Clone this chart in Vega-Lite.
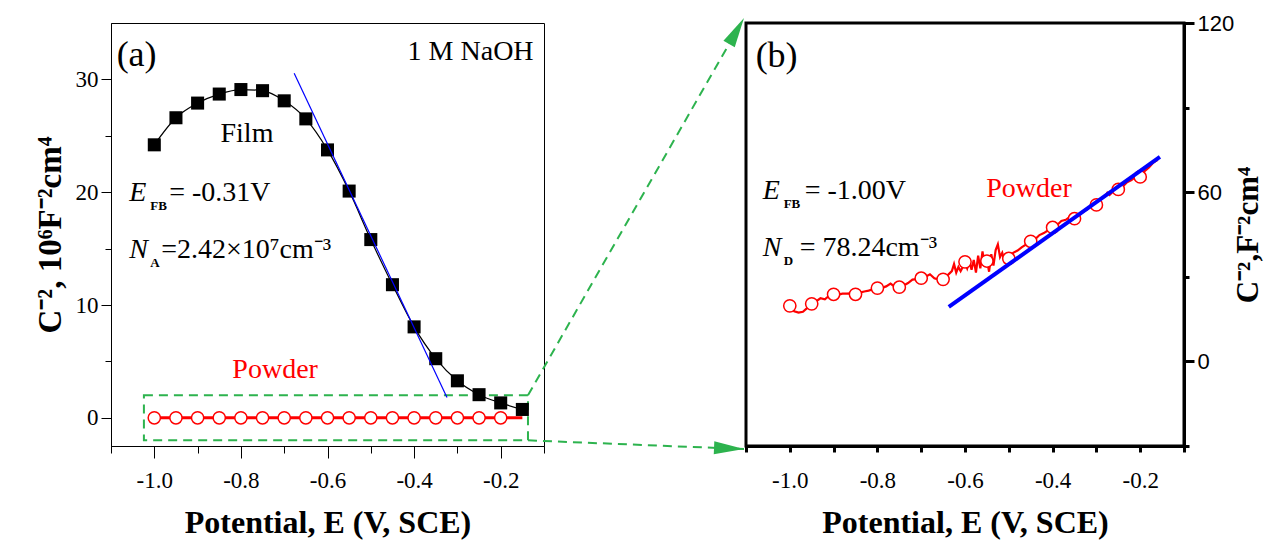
{
  "$schema": "https://vega.github.io/schema/vega-lite/v6.json",
  "background": "white",
  "padding": {"left": 33, "top": 10, "right": 0, "bottom": 5},
  "bounds": "flush",
  "spacing": 202,
  "config": {
    "font": "Liberation Serif",
    "view": {"stroke": null},
    "axis": {"grid": false, "domainColor": "black", "tickColor": "black", "labelColor": "black", "titleColor": "black", "labelFlush": false, "labelOverlap": false, "labelBound": false}
  },
  "datasets": {
    "film": [
      {"x": -1.00, "y": 24.2}, {"x": -0.95, "y": 26.6}, {"x": -0.90, "y": 27.9}, {"x": -0.85, "y": 28.7},
      {"x": -0.80, "y": 29.1}, {"x": -0.75, "y": 29.0}, {"x": -0.70, "y": 28.1}, {"x": -0.65, "y": 26.5},
      {"x": -0.60, "y": 23.75}, {"x": -0.55, "y": 20.1}, {"x": -0.50, "y": 15.8}, {"x": -0.45, "y": 11.8},
      {"x": -0.40, "y": 8.06}, {"x": -0.35, "y": 5.24}, {"x": -0.30, "y": 3.28}, {"x": -0.25, "y": 2.05},
      {"x": -0.20, "y": 1.32}, {"x": -0.15, "y": 0.74}
    ],
    "powderA": [
      {"x": -1.00, "y": 0}, {"x": -0.95, "y": 0}, {"x": -0.90, "y": 0}, {"x": -0.85, "y": 0},
      {"x": -0.80, "y": 0}, {"x": -0.75, "y": 0}, {"x": -0.70, "y": 0}, {"x": -0.65, "y": 0},
      {"x": -0.60, "y": 0}, {"x": -0.55, "y": 0}, {"x": -0.50, "y": 0}, {"x": -0.45, "y": 0},
      {"x": -0.40, "y": 0}, {"x": -0.35, "y": 0}, {"x": -0.30, "y": 0}, {"x": -0.25, "y": 0},
      {"x": -0.20, "y": 0}, {"x": -0.15, "y": 0}
    ],
    "powderBline": [
      {"x": -1.000, "y": 19.7}, {"x": -0.990, "y": 17.8}, {"x": -0.980, "y": 17.3}, {"x": -0.970, "y": 17.6},
      {"x": -0.960, "y": 19.0}, {"x": -0.950, "y": 20.4}, {"x": -0.940, "y": 21.3}, {"x": -0.930, "y": 22.4},
      {"x": -0.920, "y": 22.0}, {"x": -0.910, "y": 23.3}, {"x": -0.900, "y": 23.8}, {"x": -0.890, "y": 23.6},
      {"x": -0.880, "y": 24.0}, {"x": -0.870, "y": 24.0}, {"x": -0.860, "y": 24.1}, {"x": -0.850, "y": 23.8},
      {"x": -0.840, "y": 24.4}, {"x": -0.830, "y": 24.8}, {"x": -0.820, "y": 25.1}, {"x": -0.810, "y": 25.6},
      {"x": -0.800, "y": 26.0}, {"x": -0.790, "y": 26.1}, {"x": -0.780, "y": 26.6}, {"x": -0.770, "y": 27.6},
      {"x": -0.760, "y": 26.4}, {"x": -0.750, "y": 26.3}, {"x": -0.740, "y": 26.9}, {"x": -0.730, "y": 27.8},
      {"x": -0.720, "y": 29.0}, {"x": -0.710, "y": 29.2}, {"x": -0.700, "y": 29.5}, {"x": -0.690, "y": 30.0},
      {"x": -0.680, "y": 30.9}, {"x": -0.670, "y": 29.5}, {"x": -0.660, "y": 29.0}, {"x": -0.650, "y": 29.1},
      {"x": -0.640, "y": 30.5}, {"x": -0.630, "y": 32.0}, {"x": -0.625, "y": 34.5}, {"x": -0.620, "y": 31.5},
      {"x": -0.615, "y": 33.5}, {"x": -0.610, "y": 32.0}, {"x": -0.600, "y": 35.0}, {"x": -0.595, "y": 33.0},
      {"x": -0.590, "y": 35.5}, {"x": -0.585, "y": 32.5}, {"x": -0.580, "y": 36.0}, {"x": -0.575, "y": 31.5},
      {"x": -0.570, "y": 37.5}, {"x": -0.565, "y": 33.0}, {"x": -0.560, "y": 39.0}, {"x": -0.555, "y": 33.5},
      {"x": -0.550, "y": 36.0}, {"x": -0.545, "y": 31.8}, {"x": -0.540, "y": 38.0}, {"x": -0.535, "y": 34.0},
      {"x": -0.530, "y": 39.5}, {"x": -0.525, "y": 41.5}, {"x": -0.520, "y": 37.0}, {"x": -0.515, "y": 38.5},
      {"x": -0.510, "y": 35.5}, {"x": -0.505, "y": 37.0}, {"x": -0.500, "y": 36.5}, {"x": -0.490, "y": 38.5},
      {"x": -0.480, "y": 39.3}, {"x": -0.470, "y": 40.5}, {"x": -0.460, "y": 41.5}, {"x": -0.450, "y": 42.5},
      {"x": -0.440, "y": 43.3}, {"x": -0.430, "y": 44.8}, {"x": -0.420, "y": 45.5}, {"x": -0.410, "y": 46.5},
      {"x": -0.400, "y": 47.5}, {"x": -0.390, "y": 48.3}, {"x": -0.380, "y": 49.8}, {"x": -0.370, "y": 50.2},
      {"x": -0.360, "y": 51.3}, {"x": -0.350, "y": 51.0}, {"x": -0.340, "y": 51.8}, {"x": -0.330, "y": 53.0},
      {"x": -0.320, "y": 54.0}, {"x": -0.310, "y": 55.8}, {"x": -0.300, "y": 56.2}, {"x": -0.290, "y": 57.8},
      {"x": -0.280, "y": 58.5}, {"x": -0.275, "y": 59.8}, {"x": -0.270, "y": 59.0}, {"x": -0.260, "y": 60.5},
      {"x": -0.250, "y": 61.3}, {"x": -0.240, "y": 62.0}, {"x": -0.230, "y": 63.5}, {"x": -0.220, "y": 64.3},
      {"x": -0.210, "y": 65.5}, {"x": -0.200, "y": 66.0}, {"x": -0.190, "y": 67.5}, {"x": -0.180, "y": 68.8},
      {"x": -0.170, "y": 70.5}, {"x": -0.160, "y": 71.5}
    ],
    "powderBpts": [
      {"x": -1.00, "y": 19.7}, {"x": -0.95, "y": 20.4}, {"x": -0.90, "y": 23.8}, {"x": -0.85, "y": 23.8},
      {"x": -0.80, "y": 26.0}, {"x": -0.75, "y": 26.3}, {"x": -0.70, "y": 29.5}, {"x": -0.65, "y": 29.1},
      {"x": -0.60, "y": 35.3}, {"x": -0.55, "y": 35.6}, {"x": -0.50, "y": 36.5}, {"x": -0.45, "y": 42.6},
      {"x": -0.40, "y": 47.5}, {"x": -0.35, "y": 50.6}, {"x": -0.30, "y": 55.5}, {"x": -0.25, "y": 61.0},
      {"x": -0.20, "y": 65.4}
    ]
  },
  "hconcat": [
    {
      "width": 433,
      "height": 423,
      "view": {"stroke": "black", "strokeWidth": 1},
      "encoding": {
        "x": {
          "field": "x", "type": "quantitative",
          "scale": {"domain": [-1.1, -0.1], "nice": false, "zero": false},
          "axis": {
            "values": [-1.1, -1.0, -0.9, -0.8, -0.7, -0.6, -0.5, -0.4, -0.3, -0.2, -0.1],
            "format": ".1f",
            "labelExpr": "round(datum.value*10) % 2 === 0 ? replace(datum.label, '\u2212', '-') : ''",
            "tickSize": {"condition": {"test": "round(datum.value*10) % 2 === 0", "value": 12}, "value": 7},
            "labelFontSize": 23, "labelPadding": 11,
            "title": "Potential, E (V, SCE)", "titleFontSize": 32, "titleFontWeight": "bold", "titlePadding": 15
          }
        },
        "y": {
          "field": "y", "type": "quantitative",
          "scale": {"domain": [-2.5, 35], "nice": false, "zero": false},
          "axis": {
            "values": [0, 5, 10, 15, 20, 25, 30],
            "labelExpr": "datum.value % 10 === 0 ? datum.label : ''",
            "tickSize": {"condition": {"test": "datum.value % 10 === 0", "value": 10}, "value": 6},
            "labelFontSize": 23, "labelPadding": 3,
            "title": "C\u207b\u00b2, 10\u2076F\u207b\u00b2cm\u2074", "titleFontSize": 33, "titleFontWeight": "bold", "titlePadding": 8
          }
        }
      },
      "layer": [
        {
          "data": {"values": [{"x": -1.024, "x2": -0.137, "y": -2.0, "y2": 2.0}]},
          "mark": {"type": "rect", "fillOpacity": 0, "stroke": "#2db34e", "strokeWidth": 2, "strokeDash": [9, 6]},
          "encoding": {"x2": {"field": "x2"}, "y2": {"field": "y2"}}
        },
        {
          "data": {"name": "powderA"},
          "mark": {"type": "line", "color": "#ff0000", "strokeWidth": 3}
        },
        {
          "data": {"name": "powderA"},
          "transform": [{"filter": "datum.x <= -0.19"}],
          "mark": {"type": "point", "shape": "circle", "filled": true, "fill": "white", "stroke": "#ff0000", "strokeWidth": 1.5, "size": 150, "opacity": 1}
        },
        {
          "data": {"name": "film"},
          "mark": {"type": "line", "color": "black", "strokeWidth": 1.2, "interpolate": "monotone"}
        },
        {
          "data": {"name": "film"},
          "mark": {"type": "point", "shape": "square", "filled": true, "color": "black", "size": 170, "opacity": 1}
        },
        {
          "data": {"values": [{"x": -0.677, "y": 30.55}, {"x": -0.324, "y": 1.8}]},
          "mark": {"type": "line", "color": "#0000ff", "strokeWidth": 1.2}
        },
        {
          "data": {"values": [{"x": -0.137, "y": 2.0, "x2": 0.3619, "y2": 35.44}, {"x": -0.137, "y": -2.0, "x2": 0.3619, "y2": -2.77}]},
          "mark": {"type": "rule", "color": "#2db34e", "strokeWidth": 2, "strokeDash": [9, 6]},
          "encoding": {"x2": {"field": "x2"}, "y2": {"field": "y2"}}
        },
        {
          "data": {"values": [{"x": 0.3619, "y": 35.44}]},
          "mark": {"type": "point", "shape": "M0,0L0.65,3L-0.65,3Z", "size": 400, "angle": 29.8, "filled": true, "color": "#2db34e", "opacity": 1}
        },
        {
          "data": {"values": [{"x": 0.3619, "y": -2.77}]},
          "mark": {"type": "point", "shape": "M0,0L0.65,3L-0.65,3Z", "size": 400, "angle": 92.4, "filled": true, "color": "#2db34e", "opacity": 1}
        },
        {
          "data": {"values": [{"x": -1.087, "y": 32.2, "t": "(a)"}]},
          "mark": {"type": "text", "align": "left", "baseline": "middle", "fontSize": 36, "color": "black"},
          "encoding": {"text": {"field": "t"}}
        },
        {
          "data": {"values": [{"x": -0.124, "y": 32.45, "t": "1 M NaOH"}]},
          "mark": {"type": "text", "align": "right", "baseline": "middle", "fontSize": 28, "color": "black"},
          "encoding": {"text": {"field": "t"}}
        },
        {
          "data": {"values": [{"x": -0.786, "y": 25.2, "t": "Film"}]},
          "mark": {"type": "text", "align": "center", "baseline": "middle", "fontSize": 28, "color": "black"},
          "encoding": {"text": {"field": "t"}}
        },
        {
          "data": {"values": [{"x": -0.721, "y": 4.26, "t": "Powder"}]},
          "mark": {"type": "text", "align": "center", "baseline": "middle", "fontSize": 28, "color": "#ff0000"},
          "encoding": {"text": {"field": "t"}}
        },
        {
          "data": {"values": [{"x": -1.058, "y": 19.2, "t": "E"}, {"x": -1.058, "y": 14.2, "t": "N"}]},
          "mark": {"type": "text", "align": "left", "baseline": "alphabetic", "fontSize": 28, "fontStyle": "italic", "color": "black"},
          "encoding": {"text": {"field": "t"}}
        },
        {
          "data": {"values": [{"x": -1.058, "y": 19.2, "t": "FB"}, {"x": -1.058, "y": 14.2, "t": "A"}]},
          "mark": {"type": "text", "align": "left", "baseline": "alphabetic", "fontSize": 13, "fontWeight": "bold", "dx": 21, "dy": 9, "color": "black"},
          "encoding": {"text": {"field": "t"}}
        },
        {
          "data": {"values": [{"x": -1.058, "y": 19.2, "t": "= -0.31V"}]},
          "mark": {"type": "text", "align": "left", "baseline": "alphabetic", "fontSize": 28, "dx": 40, "color": "black"},
          "encoding": {"text": {"field": "t"}}
        },
        {
          "data": {"values": [{"x": -1.058, "y": 14.2, "t": "=2.42\u00d710\u2077cm\u207b\u00b3"}]},
          "mark": {"type": "text", "align": "left", "baseline": "alphabetic", "fontSize": 28, "dx": 32, "color": "black"},
          "encoding": {"text": {"field": "t"}}
        }
      ]
    },
    {
      "width": 438,
      "height": 423,
      "view": {"stroke": "black", "strokeWidth": 3},
      "encoding": {
        "x": {
          "field": "x", "type": "quantitative",
          "scale": {"domain": [-1.1, -0.1], "nice": false, "zero": false},
          "axis": {
            "values": [-1.1, -1.0, -0.9, -0.8, -0.7, -0.6, -0.5, -0.4, -0.3, -0.2, -0.1],
            "format": ".1f",
            "labelExpr": "round(datum.value*10) % 2 === 0 ? replace(datum.label, '\u2212', '-') : ''",
            "tickSize": 6, "tickWidth": 3, "domainWidth": 3,
            "labelFontSize": 23, "labelPadding": 17,
            "title": "Potential, E (V, SCE)", "titleFontSize": 32, "titleFontWeight": "bold", "titlePadding": 15
          }
        },
        "y": {
          "field": "y", "type": "quantitative",
          "scale": {"domain": [-30, 120], "nice": false, "zero": false},
          "axis": {
            "orient": "right",
            "values": [-30, 0, 30, 60, 90, 120],
            "labelExpr": "datum.value % 60 === 0 ? datum.label : ''",
            "tickSize": {"condition": {"test": "datum.value % 60 === 0", "value": 10}, "value": 5},
            "tickWidth": 3, "domainWidth": 3,
            "labelFont": "Liberation Sans", "labelFontSize": 22, "labelPadding": 3,
            "title": "C\u207b\u00b2,F\u207b\u00b2cm\u2074", "titleAngle": 270, "titleFontSize": 31, "titleFontWeight": "bold", "titlePadding": 31
          }
        }
      },
      "layer": [
        {
          "data": {"name": "powderBline"},
          "mark": {"type": "line", "color": "#ff0000", "strokeWidth": 2.2}
        },
        {
          "data": {"name": "powderBpts"},
          "mark": {"type": "point", "shape": "circle", "filled": true, "fill": "white", "stroke": "#ff0000", "strokeWidth": 1.5, "size": 150, "opacity": 1}
        },
        {
          "data": {"values": [{"x": -0.637, "y": 19.3}, {"x": -0.155, "y": 72.5}]},
          "mark": {"type": "line", "color": "#0000ff", "strokeWidth": 4}
        },
        {
          "data": {"values": [{"x": -1.078, "y": 108.4, "t": "(b)"}]},
          "mark": {"type": "text", "align": "left", "baseline": "middle", "fontSize": 36, "color": "black"},
          "encoding": {"text": {"field": "t"}}
        },
        {
          "data": {"values": [{"x": -0.454, "y": 61.1, "t": "Powder"}]},
          "mark": {"type": "text", "align": "center", "baseline": "middle", "fontSize": 28, "color": "#ff0000"},
          "encoding": {"text": {"field": "t"}}
        },
        {
          "data": {"values": [{"x": -1.062, "y": 57.5, "t": "E"}, {"x": -1.062, "y": 37.5, "t": "N"}]},
          "mark": {"type": "text", "align": "left", "baseline": "alphabetic", "fontSize": 28, "fontStyle": "italic", "color": "black"},
          "encoding": {"text": {"field": "t"}}
        },
        {
          "data": {"values": [{"x": -1.062, "y": 57.5, "t": "FB"}, {"x": -1.062, "y": 37.5, "t": "D"}]},
          "mark": {"type": "text", "align": "left", "baseline": "alphabetic", "fontSize": 13, "fontWeight": "bold", "dx": 21, "dy": 9, "color": "black"},
          "encoding": {"text": {"field": "t"}}
        },
        {
          "data": {"values": [{"x": -1.062, "y": 57.5, "t": "= -1.00V"}]},
          "mark": {"type": "text", "align": "left", "baseline": "alphabetic", "fontSize": 28, "dx": 42, "color": "black"},
          "encoding": {"text": {"field": "t"}}
        },
        {
          "data": {"values": [{"x": -1.062, "y": 37.5, "t": "= 78.24cm\u207b\u00b3"}]},
          "mark": {"type": "text", "align": "left", "baseline": "alphabetic", "fontSize": 28, "dx": 37, "color": "black"},
          "encoding": {"text": {"field": "t"}}
        }
      ]
    }
  ]
}
